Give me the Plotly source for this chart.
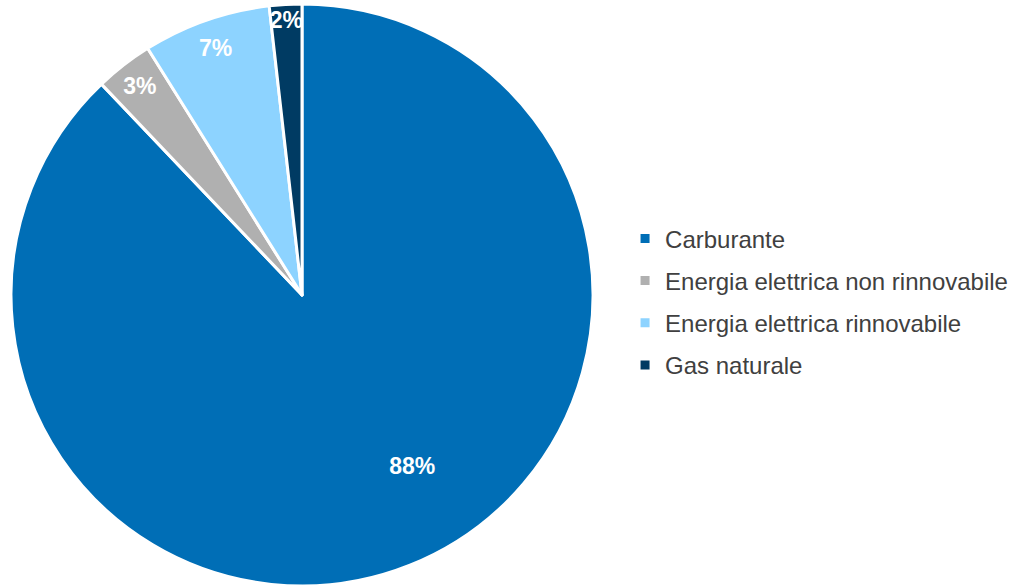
import plotly.graph_objects as go

labels = ["Carburante", "Energia elettrica non rinnovabile", "Energia elettrica rinnovabile", "Gas naturale"]
values = [87.9, 3.2, 7.1, 1.8]
colors = ["#006EB6", "#B0B0B0", "#8DD3FF", "#003B63"]

W, H = 1018, 586
cx, cy, r = 302, 295, 291
dom = dict(x=[(cx - r) / W, (cx + r) / W], y=[max(0, (H - cy - r) / H), min(1, (H - cy + r) / H)])
tfont = dict(family="Liberation Sans", size=23, color="white", weight="bold")
clear = ["rgba(0,0,0,0)"] * len(labels)

fig = go.Figure()
# main pie (labels for the small slices)
fig.add_trace(go.Pie(
    labels=labels, values=values, sort=False, direction="clockwise", rotation=0,
    marker=dict(colors=colors, line=dict(color="white", width=3)),
    texttemplate=["", "%{percent:.0%}", "", "%{percent:.0%}"],
    textposition="inside", insidetextorientation="horizontal",
    textfont=tfont, showlegend=False, hoverinfo="label+percent", domain=dom,
))
# transparent overlay ring to place the large-slice label further out
fig.add_trace(go.Pie(
    labels=labels, values=values, sort=False, direction="clockwise", rotation=-11, hole=0.4,
    marker=dict(colors=clear, line=dict(width=0)),
    texttemplate=["%{percent:.0%}", "", "", ""],
    textposition="inside", insidetextorientation="horizontal",
    textfont=tfont, showlegend=False, hoverinfo="skip", domain=dom,
))
# transparent outer ring for the 7% label
fig.add_trace(go.Pie(
    labels=labels, values=values, sort=False, direction="clockwise", rotation=0, hole=0.8,
    marker=dict(colors=clear, line=dict(width=0)),
    texttemplate=["", "", "%{percent:.0%}", ""],
    textposition="inside", insidetextorientation="horizontal",
    textfont=tfont, showlegend=False, hoverinfo="skip", domain=dom,
))
for lab, col in zip(labels, colors):
    fig.add_trace(go.Scatter(
        x=[None], y=[None], mode="markers", name=lab, legendgroup=lab,
        marker=dict(symbol="square", size=9, color=col), showlegend=True,
    ))

fig.update_layout(
    width=W, height=H, margin=dict(l=0, r=0, t=0, b=0),
    paper_bgcolor="white", plot_bgcolor="white",
    xaxis=dict(visible=False), yaxis=dict(visible=False),
    uniformtext=dict(minsize=23, mode="show"),
    legend=dict(x=0.614, y=0.485, xanchor="left", yanchor="middle", tracegroupgap=8,
                font=dict(family="Liberation Sans", size=24, color="#404040"),
                itemwidth=30, bgcolor="rgba(0,0,0,0)"),
)
fig.write_html("out.html", config={"displayModeBar": False},
               post_script="document.body.style.margin='0';")
